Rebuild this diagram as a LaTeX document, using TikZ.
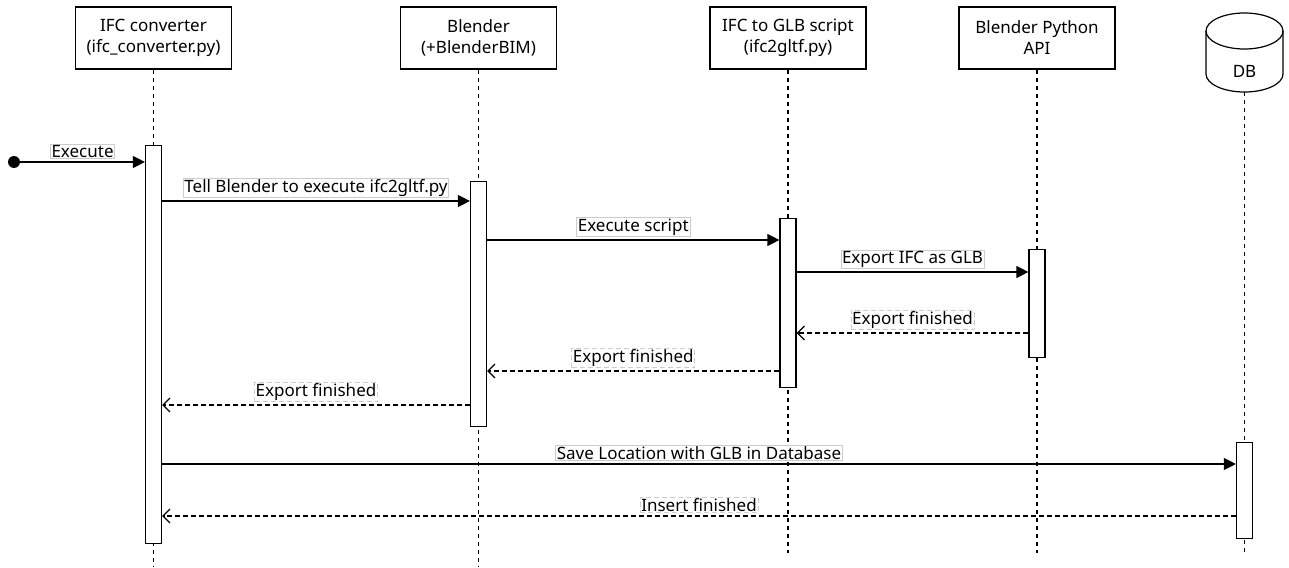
\documentclass[tikz,border=0pt]{standalone}
\usepackage{fontspec}
\setmainfont{Noto Sans}
\usetikzlibrary{arrows.meta, calc}

\begin{document}
\begin{tikzpicture}[x=1pt, y=-1pt, >=Stealth,
  font=\fontsize{17}{21}\selectfont,
  actor/.style={draw, line width=1.2pt, minimum width=156pt, minimum height=62pt, align=center, inner sep=0pt},
  actbar/.style={draw, fill=white, line width=1.2pt, minimum width=16pt, inner sep=0pt, anchor=north},
  lifeline/.style={line width=1.1pt, dash pattern=on 4pt off 4pt},
  msg/.style={line width=1.3pt, -{Triangle[length=12pt, width=12pt]}},
  reply/.style={line width=1.2pt, dash pattern=on 5pt off 3pt, -{Straight Barb[length=7pt, width=14pt, line width=1.2pt]}},
  lbl/.style={fill=white, draw=black!20, line width=0.6pt, inner sep=1.2pt, above=3pt, midway}]
  \useasboundingbox (0,0) rectangle (1289,567);

  \node[actor] (ifc) at (153.5,38) {IFC converter\\(ifc\_converter.py)};
  \node[actor] (blender) at (478.5,38) {Blender\\(+BlenderBIM)};
  \node[actor] (script) at (788,38) {IFC to GLB script\\(ifc2gltf.py)};
  \node[actor] (bpy) at (1037,38) {Blender Python\\API};
  \node (db) at (1244.5,71) {DB};
  \draw[line width=1.2pt] (1206,31) -- (1206,74) arc[start angle=180, end angle=0, x radius=38.5, y radius=18] -- (1283,31);
  \draw[line width=1.2pt] (1244.5,31) ellipse[x radius=38.5, y radius=18];

  \draw[lifeline] (ifc.south) -- (ifc |- 0,567);
  \draw[lifeline] (blender.south) -- (blender |- 0,567);
  \draw[lifeline] (script.south) -- (script |- 0,553);
  \draw[lifeline] (bpy.south) -- (bpy |- 0,553);
  \draw[lifeline] (db |- 0,92) -- (db |- 0,553);

  \node[actbar, minimum height=398pt] (ifcbar) at (ifc |- 0,145) {};
  \node[actbar, minimum height=245pt] (blenderbar) at (blender |- 0,181) {};
  \node[actbar, minimum height=169pt] (scriptbar) at (script |- 0,218) {};
  \node[actbar, minimum height=108pt] (bpybar) at (bpy |- 0,249) {};
  \node[actbar, minimum height=96pt] (dbbar) at (db |- 0,442) {};

  \node[circle, fill, minimum size=12pt, inner sep=0pt] (start) at (14,162) {};

  \draw[msg] (start) -- (ifcbar.west |- start) node[lbl] {Execute};
  \draw[msg] (ifcbar.east |- 0,201) -- (blenderbar.west |- 0,201) node[lbl] {Tell Blender to execute ifc2gltf.py};
  \draw[msg] (blenderbar.east |- 0,240) -- (scriptbar.west |- 0,240) node[lbl] {Execute script};
  \draw[msg] (scriptbar.east |- 0,272) -- (bpybar.west |- 0,272) node[lbl] {Export IFC as GLB};
  \draw[reply] (bpybar.west |- 0,333) -- (scriptbar.east |- 0,333) node[lbl] {Export finished};
  \draw[reply] (scriptbar.west |- 0,371) -- (blenderbar.east |- 0,371) node[lbl] {Export finished};
  \draw[reply] (blenderbar.west |- 0,405) -- (ifcbar.east |- 0,405) node[lbl] {Export finished};
  \draw[msg] (ifcbar.east |- 0,464) -- (dbbar.west |- 0,464) node[lbl] {Save Location with GLB in Database};
  \draw[reply] (dbbar.west |- 0,516) -- (ifcbar.east |- 0,516) node[lbl] {Insert finished};
\end{tikzpicture}
\end{document}
